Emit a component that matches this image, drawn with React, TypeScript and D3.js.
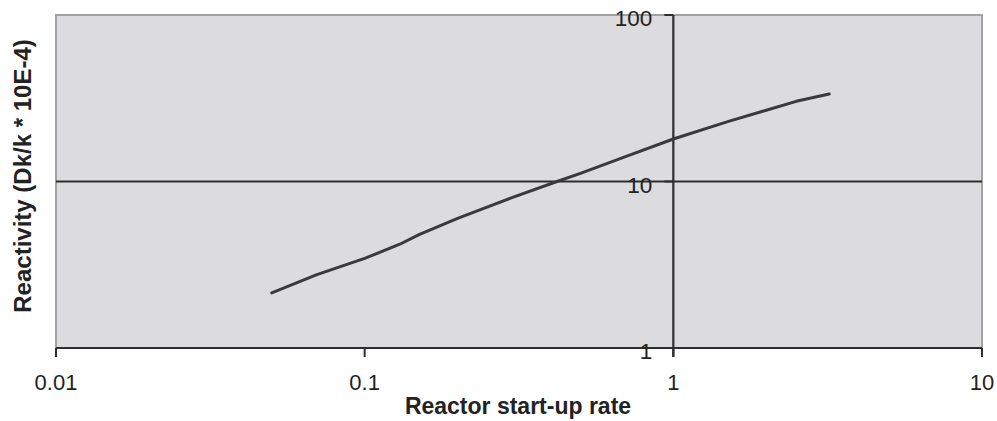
import React from "react";
import * as d3 from "d3";

// Start-up rate vs. reactivity curve
const startupRate = [0.05, 0.07, 0.1, 0.13, 0.15, 0.2, 0.3, 0.42, 0.5, 0.7, 1, 1.5, 2, 2.5, 3.2];
const reactivity = [2.14, 2.76, 3.45, 4.2, 4.8, 6.0, 8.0, 10, 11.2, 14.1, 18, 22.9, 26.8, 30.3, 33.5];

const xTicks = [0.01, 0.1, 1, 10];
const xTickLabels = ["0.01", "0.1", "1", "10"];
const yTicks = [1, 10, 100];
const yTickLabels = ["1", "10", "100"];

const xTitle = "Reactor start-up rate";
const yTitle = "Reactivity (Dk/k * 10E-4)";

const W = 997;
const H = 421;
const left = 56;
const right = 982;
const top = 15;
const bottom = 348;

export default function App() {
  const x = d3.scaleLog().domain([0.01, 10]).range([left, right]);
  const y = d3.scaleLog().domain([1, 100]).range([bottom, top]);
  const pts: [number, number][] = startupRate.map((r, i) => [r, reactivity[i]]);
  const line = d3
    .line<[number, number]>()
    .x((d) => x(d[0]))
    .y((d) => y(d[1]))
    .curve(d3.curveLinear);

  const font = "'Liberation Sans', Arial, Helvetica, sans-serif";
  const axisX = x(1);
  const dark = "#2e2e2e";

  return (
    <svg
      width={W}
      height={H}
      style={{ position: "absolute", left: 0, top: 0, background: "#fff" }}
      fontFamily={font}
    >
      <rect x={left} y={top} width={right - left} height={bottom - top} fill="#dcdcde" />
      {/* frame */}
      <path
        d={`M${left},${bottom}V${top}H${right}V${bottom}`}
        fill="none"
        stroke="#a2a2a2"
        strokeWidth={2}
      />
      {/* major gridline at 10 */}
      <line x1={left} x2={right} y1={y(10)} y2={y(10)} stroke={dark} strokeWidth={2} />
      {/* x axis */}
      <line x1={left} x2={right} y1={bottom} y2={bottom} stroke={dark} strokeWidth={2.2} />
      {xTicks.map((t) => (
        <line key={"xt" + t} x1={x(t)} x2={x(t)} y1={bottom} y2={bottom + 9} stroke={dark} strokeWidth={2} />
      ))}
      {xTicks.map((t, i) => (
        <text key={"xl" + t} x={x(t)} y={390} textAnchor="middle" fontSize={22} fill="#222">
          {xTickLabels[i]}
        </text>
      ))}
      {/* y axis crossing at x = 1 */}
      <line x1={axisX} x2={axisX} y1={top} y2={bottom + 9} stroke={dark} strokeWidth={2.2} />
      {yTicks.map((t) => (
        <line key={"yt" + t} x1={axisX - 9} x2={axisX} y1={y(t)} y2={y(t)} stroke={dark} strokeWidth={2} />
      ))}
      {yTicks.map((t, i) => (
        <text
          key={"yl" + t}
          x={axisX - 21}
          y={y(t) + 11}
          textAnchor="end"
          fontSize={22.5}
          fill="#222"
        >
          {yTickLabels[i]}
        </text>
      ))}
      {/* data */}
      <path
        d={line(pts) || ""}
        fill="none"
        stroke="#3a3a3a"
        strokeWidth={3}
        strokeLinecap="round"
        strokeLinejoin="round"
      />
      {/* titles */}
      <text x={518} y={414} textAnchor="middle" fontSize={23} fontWeight="bold" fill="#222">
        {xTitle}
      </text>
      <text
        transform={`translate(31,176) rotate(-90)`}
        textAnchor="middle"
        fontSize={24}
        fontWeight="bold"
        fill="#222"
      >
        {yTitle}
      </text>
    </svg>
  );
}
